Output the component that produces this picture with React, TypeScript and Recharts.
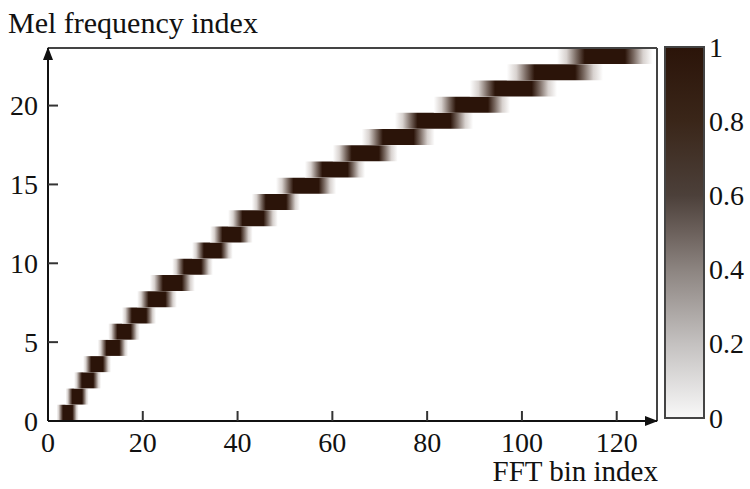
import React from 'react';
import { BarChart, Bar, ComposedChart, XAxis, YAxis, ReferenceLine, ReferenceDot } from 'recharts';

// Mel filter rows (filter index, bottom to top)
const melRows = [0, 1, 2, 3, 4, 5, 6, 7, 8, 9, 10, 11, 12, 13, 14, 15, 16, 17, 18, 19, 20, 21, 22];
// FFT bin where each filter's response starts / ends
const filterStart = [1.8, 3.7, 5.5, 7.4, 10.5, 12.7, 15.6, 18.8, 21.5, 26.2, 30.4, 34.2, 38.0, 43.0, 48.1, 54.2, 60.1, 66.2, 73.2, 81.4, 89.0, 96.8, 107.4];
const filterEnd = [6.5, 8.6, 11.2, 13.3, 16.9, 19.4, 22.8, 27.2, 31.0, 34.8, 39.0, 43.2, 48.5, 53.2, 60.8, 66.9, 73.8, 81.6, 89.7, 97.5, 107.4, 117.1, 127.6];

const xTicks = [0, 20, 40, 60, 80, 100, 120];
const yTicks = [0, 5, 10, 15, 20];
const xMax = 128.5;
const yMax = 23.65;
const colorTicks = [0, 0.2, 0.4, 0.6, 0.8, 1];
const colorTickLabels = ['0', '0.2', '0.4', '0.6', '0.8', '1'];

const rowData = melRows.map((r, i) => ({ row: r, span: [filterStart[i], filterEnd[i]] }));
const colorData = [{ name: 'scale', v: 1 }];

const FONT = 'Liberation Serif, Times New Roman, serif';
const TXT = '#111';
const TICK_FS = 28;

const YTick = (props: any) => {
  const { x, y, payload } = props;
  return (
    <g>
      {payload.value !== 0 && <line x1={x + 10} y1={y} x2={x + 20} y2={y} stroke="#333" strokeWidth={2} />}
      <text x={x} y={y} textAnchor="end" dominantBaseline="central" fontFamily={FONT} fontSize={TICK_FS} fill={TXT}>
        {payload.value}
      </text>
    </g>
  );
};

const XTick = (props: any) => {
  const { x, y, payload } = props;
  return (
    <g>
      {payload.value !== 0 && <line x1={x} y1={y - 21} x2={x} y2={y - 31} stroke="#333" strokeWidth={2} />}
      <text x={x} y={y} textAnchor="middle" dominantBaseline="central" fontFamily={FONT} fontSize={TICK_FS} fill={TXT}>
        {payload.value}
      </text>
    </g>
  );
};

const CTick = (props: any) => {
  const { x, y, payload } = props;
  const idx = colorTicks.indexOf(payload.value);
  return (
    <text x={x} y={y} textAnchor="start" dominantBaseline="central" fontFamily={FONT} fontSize={TICK_FS} fill={TXT}>
      {idx >= 0 ? colorTickLabels[idx] : payload.value}
    </text>
  );
};

const UpArrow = (p: any) => <path d={`M${p.cx},${p.cy - 1} L${p.cx - 5},${p.cy + 12} L${p.cx + 5},${p.cy + 12} Z`} fill="#111" />;
const RightArrow = (p: any) => <path d={`M${p.cx + 1},${p.cy} L${p.cx - 12},${p.cy - 5} L${p.cx - 12},${p.cy + 5} Z`} fill="#111" />;

export default function App() {
  return (
    <div style={{ position: 'relative', width: 750, height: 489, background: '#fff' }}>
      <style>{'body{margin:0;background:#fff}'}</style>
      {/* filter bank rows */}
      <div style={{ position: 'absolute', left: 0, top: 0 }}>
        <BarChart
          width={750}
          height={489}
          data={rowData}
          layout="vertical"
          margin={{ top: 48, right: 93, bottom: 68, left: 48 }}
          barCategoryGap={0}
          barGap={0}
        >
          <defs>
            <linearGradient id="filt" x1="0" y1="0" x2="1" y2="0">
              <stop offset="0" stopColor="#ffffff" />
              <stop offset="0.1" stopColor="#d8d2cf" />
              <stop offset="0.2" stopColor="#7a6a62" />
              <stop offset="0.29" stopColor="#2b1409" />
              <stop offset="0.71" stopColor="#2b1409" />
              <stop offset="0.8" stopColor="#7a6a62" />
              <stop offset="0.9" stopColor="#d8d2cf" />
              <stop offset="1" stopColor="#ffffff" />
            </linearGradient>
          </defs>
          <XAxis type="number" domain={[0, xMax]} allowDataOverflow hide />
          <YAxis type="category" dataKey="row" hide reversed />
          <Bar dataKey="span" fill="url(#filt)" isAnimationActive={false} />
        </BarChart>
      </div>
      {/* axes, frame and arrows */}
      <div style={{ position: 'absolute', left: 0, top: 0 }}>
        <ComposedChart width={750} height={489} data={[]} margin={{ top: 48, right: 93, bottom: 0, left: 0 }}>
          <XAxis
            type="number"
            dataKey="x"
            domain={[0, xMax]}
            allowDataOverflow
            ticks={xTicks}
            height={68}
            tickSize={0}
            tickMargin={21}
            tickLine={false}
            axisLine={{ stroke: '#111', strokeWidth: 2 }}
            tick={<XTick />}
            interval={0}
          />
          <YAxis
            type="number"
            dataKey="y"
            domain={[0, yMax]}
            allowDataOverflow
            ticks={yTicks}
            width={48}
            tickSize={0}
            tickMargin={10}
            tickLine={false}
            axisLine={{ stroke: '#111', strokeWidth: 2 }}
            tick={<YTick />}
            interval={0}
          />
          <ReferenceLine y={yMax} stroke="#444" strokeWidth={2} ifOverflow="visible" />
          <ReferenceLine x={xMax} stroke="#444" strokeWidth={2} ifOverflow="visible" />
          <ReferenceDot x={0} y={yMax} ifOverflow="visible" shape={<UpArrow />} />
          <ReferenceDot x={xMax} y={0} ifOverflow="visible" shape={<RightArrow />} />
        </ComposedChart>
      </div>
      {/* colour bar */}
      <div style={{ position: 'absolute', left: 650, top: 0 }}>
        <BarChart
          width={100}
          height={489}
          data={colorData}
          margin={{ top: 47, right: 0, bottom: 71, left: 15 }}
          barCategoryGap={0}
        >
          <defs>
            <linearGradient id="cbar" x1="0" y1="1" x2="0" y2="0">
              <stop offset="0" stopColor="#f8f8f8" />
              <stop offset="0.2" stopColor="#c4c1c0" />
              <stop offset="0.4" stopColor="#8c8480" />
              <stop offset="0.5" stopColor="#6c615c" />
              <stop offset="0.6" stopColor="#4c403a" />
              <stop offset="0.8" stopColor="#3a2619" />
              <stop offset="1" stopColor="#2b1409" />
            </linearGradient>
          </defs>
          <XAxis dataKey="name" type="category" hide />
          <YAxis
            orientation="right"
            type="number"
            domain={[0, 1]}
            ticks={colorTicks}
            width={46}
            tickSize={0}
            tickMargin={5}
            tickLine={false}
            axisLine={false}
            tick={<CTick />}
            interval={0}
          />
          <Bar dataKey="v" fill="url(#cbar)" stroke="#444" strokeWidth={2} isAnimationActive={false} />
        </BarChart>
      </div>
      <svg width={750} height={489} style={{ position: 'absolute', left: 0, top: 0, pointerEvents: 'none' }}>
        <text x={8} y={33} fontFamily={FONT} fontSize={30} fill={TXT}>Mel frequency index</text>
        <text x={658} y={481} textAnchor="end" fontFamily={FONT} fontSize={29} fill={TXT}>FFT bin index</text>
      </svg>
    </div>
  );
}
